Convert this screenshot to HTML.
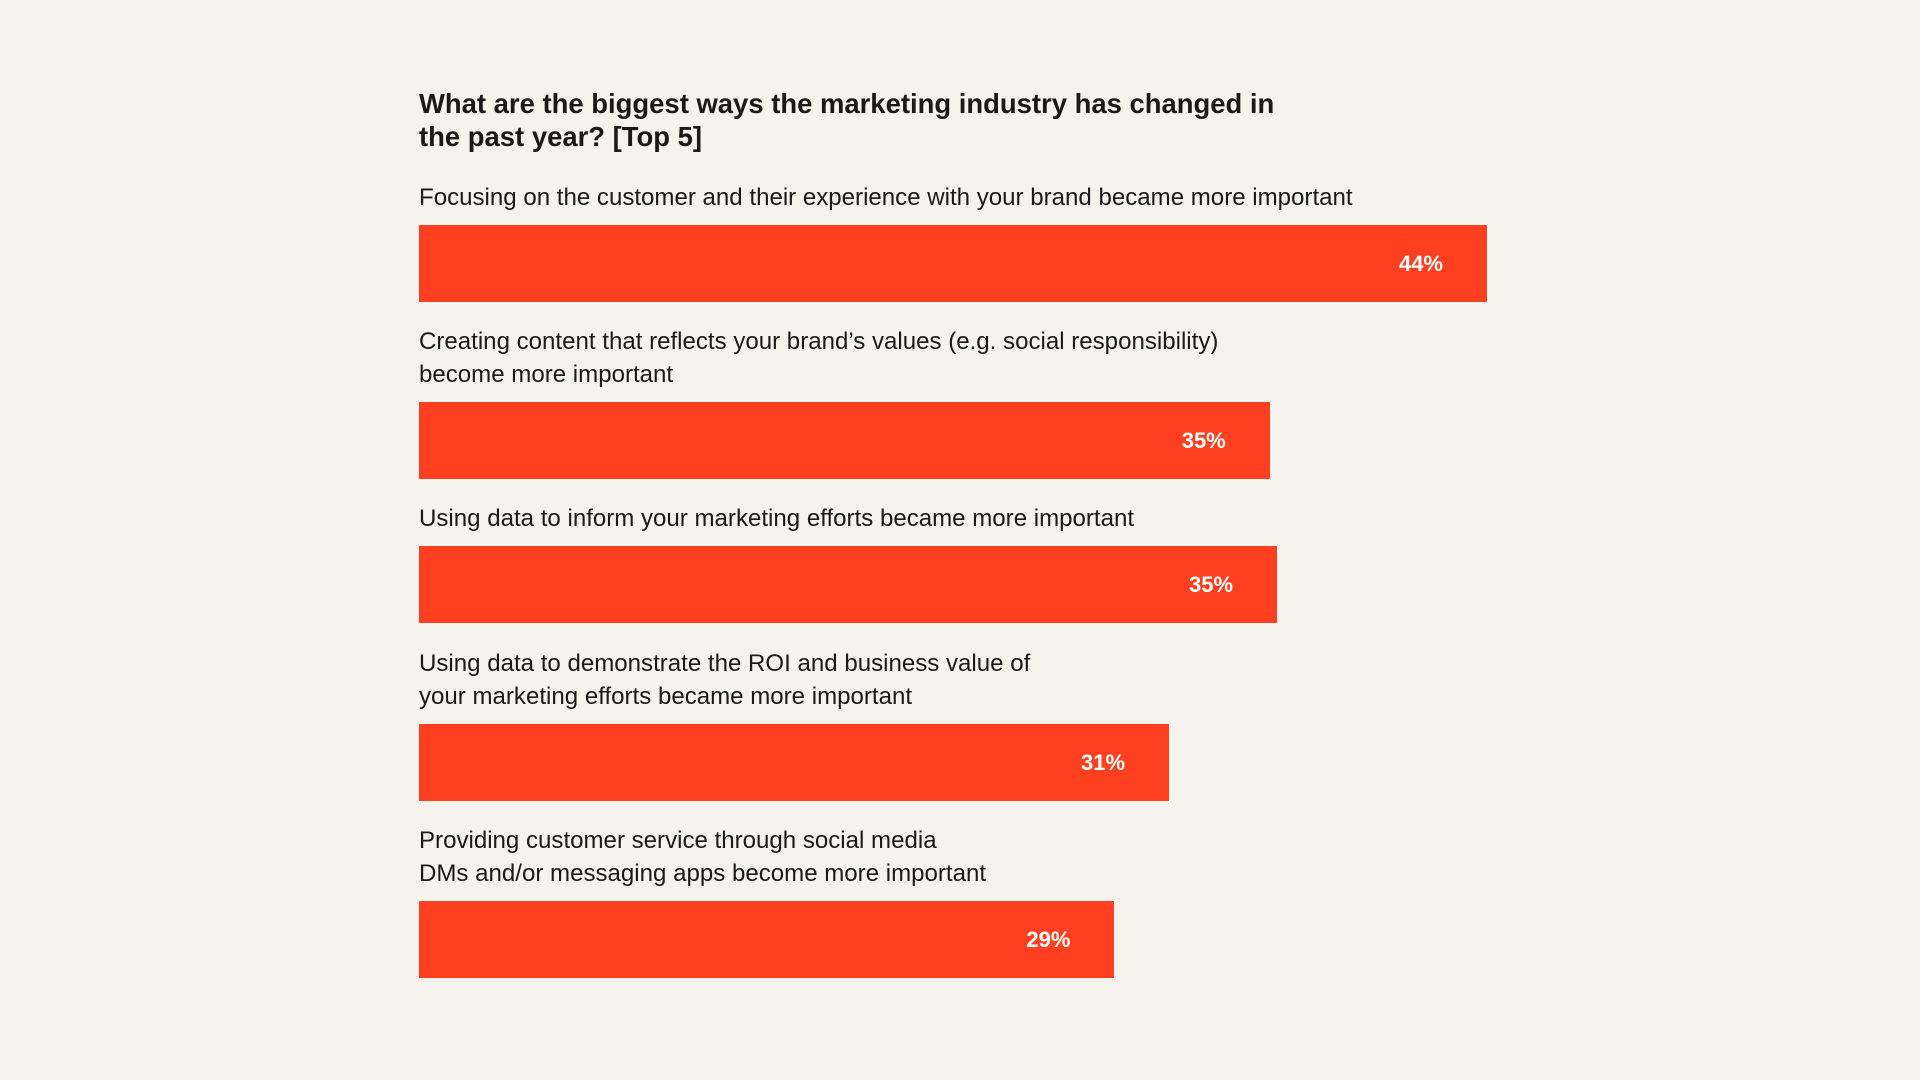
<!DOCTYPE html>
<html><head><meta charset="utf-8">
<style>
html,body{margin:0;padding:0}
body{width:1920px;height:1080px;background:#f6f2ec;position:relative;overflow:hidden;font-family:"Liberation Sans",sans-serif;color:#1a1a1a}
.t{position:absolute;left:419px;white-space:nowrap;line-height:33px}
.title{font-weight:bold;font-size:25px}
.lab{font-size:22px}
.bar{position:absolute;left:419px;height:77px;background:#ff4020}
.val{position:absolute;color:#fff;font-weight:bold;font-size:22px;line-height:77px;text-align:right}
</style></head>
<body>
<div class="t title" id="t1" style="top:87px">What are the biggest ways the marketing industry has changed in</div>
<div class="t title" style="top:120px">the past year? [Top 5]</div>
<div id="chart"></div>
<script>
const categories=[
 ["Focusing on the customer and their experience with your brand became more important"],
 ["Creating content that reflects your brand’s values (e.g. social responsibility)","become more important"],
 ["Using data to inform your marketing efforts became more important"],
 ["Using data to demonstrate the ROI and business value of","your marketing efforts became more important"],
 ["Providing customer service through social media","DMs and/or messaging apps become more important"]
];
const values=[44,35.05,35.35,30.9,28.65];
const valueLabels=["44%","35%","35%","31%","29%"];
const barTops=[225,402,546,724,901];
const x0=419, pxPer=1068/44;
function xs(v){return v*pxPer;}
const chart=document.getElementById('chart');
// fit fonts
const tt=document.getElementById('t1');
const tw=tt.getBoundingClientRect().width;
const titleSize=25*856/tw;
document.querySelectorAll('.title').forEach(e=>e.style.fontSize=titleSize+'px');
let labSize=22;
categories.forEach((lines,i)=>{
  const top=barTops[i];
  lines.forEach((ln,j)=>{
    const d=document.createElement('div');
    
    
    d.className='t lab';
    d.textContent=ln;
    d.style.top=(top-28-16.5-(lines.length-1-j)*33)+'px';
    chart.appendChild(d);
    if(i===0&&j===0){labSize=22*934/d.getBoundingClientRect().width;}
  });
  const b=document.createElement('div');
  
  
  b.className='bar';
  b.style.top=top+'px';
  b.style.width=xs(values[i])+'px';
  chart.appendChild(b);
  const v=document.createElement('div');
  
  
  v.className='val';
  v.textContent=valueLabels[i];
  v.style.top=top+'px';
  v.style.left=(x0+xs(values[i])-144)+'px';
  v.style.width='100px';
  chart.appendChild(v);
});
document.querySelectorAll('.lab').forEach(e=>e.style.fontSize=labSize+'px');
</script>
</body></html>
